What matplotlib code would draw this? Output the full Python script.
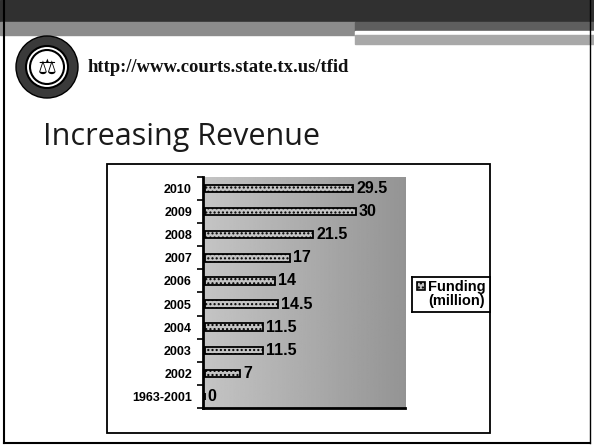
import numpy as np
import matplotlib
matplotlib.use("Agg")
import matplotlib.pyplot as plt
from matplotlib.patches import Rectangle, Circle

# data (bottom to top)
years = ["1963-2001", "2002", "2003", "2004", "2005", "2006", "2007", "2008", "2009", "2010"]
funding = [0, 7, 11.5, 11.5, 14.5, 14, 17, 21.5, 30, 29.5]
value_labels = ["0", "7", "11.5", "11.5", "14.5", "14", "17", "21.5", "30", "29.5"]
legend_label = "Funding\n(million)"
page_title = "Increasing Revenue"
url_text = "http://www.courts.state.tx.us/tfid"

W, H = 594, 446
fig = plt.figure(figsize=(W / 100, H / 100), dpi=100)
fig.patch.set_facecolor("white")


def box(x0, y0, x1, y1):
    # pixel box -> figure fraction [left, bottom, width, height]
    return [x0 / W, 1 - y1 / H, (x1 - x0) / W, (y1 - y0) / H]


# background layer for slide decoration
bg = fig.add_axes([0, 0, 1, 1])
bg.set_xlim(0, W)
bg.set_ylim(H, 0)
bg.axis("off")

# top bands
bg.add_patch(Rectangle((0, 0), W, 22, color="#303030"))
bg.add_patch(Rectangle((0, 22), 355, 13, color="#8c8c8c"))
bg.add_patch(Rectangle((355, 22), W - 355, 9, color="#5e5e5e"))
bg.add_patch(Rectangle((355, 31), W - 355, 4, color="white"))
bg.add_patch(Rectangle((355, 35), W - 355, 9, color="#a8a8a8"))

# slide border
bg.plot([4, 4], [0, 443], color="black", lw=1.5)
bg.plot([4, 590], [443, 443], color="black", lw=1.5)
bg.plot([590, 590], [0, 443], color="black", lw=1.0)

# logo
bg.add_patch(Circle((47, 67), 31, facecolor="#3a3a3a", edgecolor="black", lw=1))
bg.add_patch(Circle((47, 67), 21, facecolor="white", edgecolor="black", lw=1.5))
bg.add_patch(Circle((47, 67), 17, facecolor="none", edgecolor="black", lw=1.5))
bg.text(47, 68, "\u2696", ha="center", va="center", fontsize=15, color="black")

bg.text(88, 72, url_text, ha="left", va="baseline", fontsize=13.4,
        fontweight="bold", family="Liberation Serif", color="#111111")
bg.text(43, 145, page_title, ha="left", va="baseline", fontsize=22,
        family="Open Sans", color="#1a1a1a")

# chart frame
bg.add_patch(Rectangle((107, 164), 383, 269, facecolor="white",
                       edgecolor="black", lw=1.3))

# plot area with gray gradient
ax = fig.add_axes(box(203, 177, 405, 408))
ax.set_xlim(0, 40)
ax.set_ylim(-0.5, len(years) - 0.5)
grad = np.linspace(0.77, 0.58, 256).reshape(1, -1)
ax.imshow(grad, extent=[0, 40, -0.5, len(years) - 0.5], aspect="auto",
          cmap="gray", vmin=0, vmax=1, zorder=0)

ypos = np.arange(len(years))
ax.barh(ypos, funding, height=0.32, left=0.3, color="#c4c4c4",
        edgecolor="black", lw=1.3, hatch="....", zorder=2, label="Funding")
for y, v, lab in zip(ypos, funding, value_labels):
    ax.text(v + 0.9, y, lab, ha="left", va="center", fontsize=11.5,
            fontweight="bold", family="Liberation Sans", color="black", zorder=3)

ax.set_yticks(ypos)
ax.set_yticklabels(years, fontsize=9, fontweight="bold", family="Liberation Sans")
ax.set_yticks(np.arange(-0.5, len(years), 1), minor=True)
ax.tick_params(axis="y", which="major", length=0, pad=8)
ax.tick_params(axis="y", which="minor", length=4, width=1.2, direction="out")
ax.set_xticks([])
for s in ["top", "right"]:
    ax.spines[s].set_visible(False)
ax.spines["left"].set_linewidth(2)
ax.spines["bottom"].set_linewidth(2)

# legend
lg = fig.add_axes(box(412, 277, 490, 312))
lg.set_xlim(0, 78)
lg.set_ylim(35, 0)
lg.set_xticks([])
lg.set_yticks([])
for s in lg.spines.values():
    s.set_linewidth(1.3)
lg.add_patch(Rectangle((5, 5), 8, 8, facecolor="#c4c4c4", edgecolor="black",
                       lw=1.2, hatch="...."))
lg.text(45, 17, legend_label, ha="center", va="center", fontsize=10.5,
        fontweight="bold", family="Liberation Sans", linespacing=1.0)

fig.savefig("out.png", dpi=100)
